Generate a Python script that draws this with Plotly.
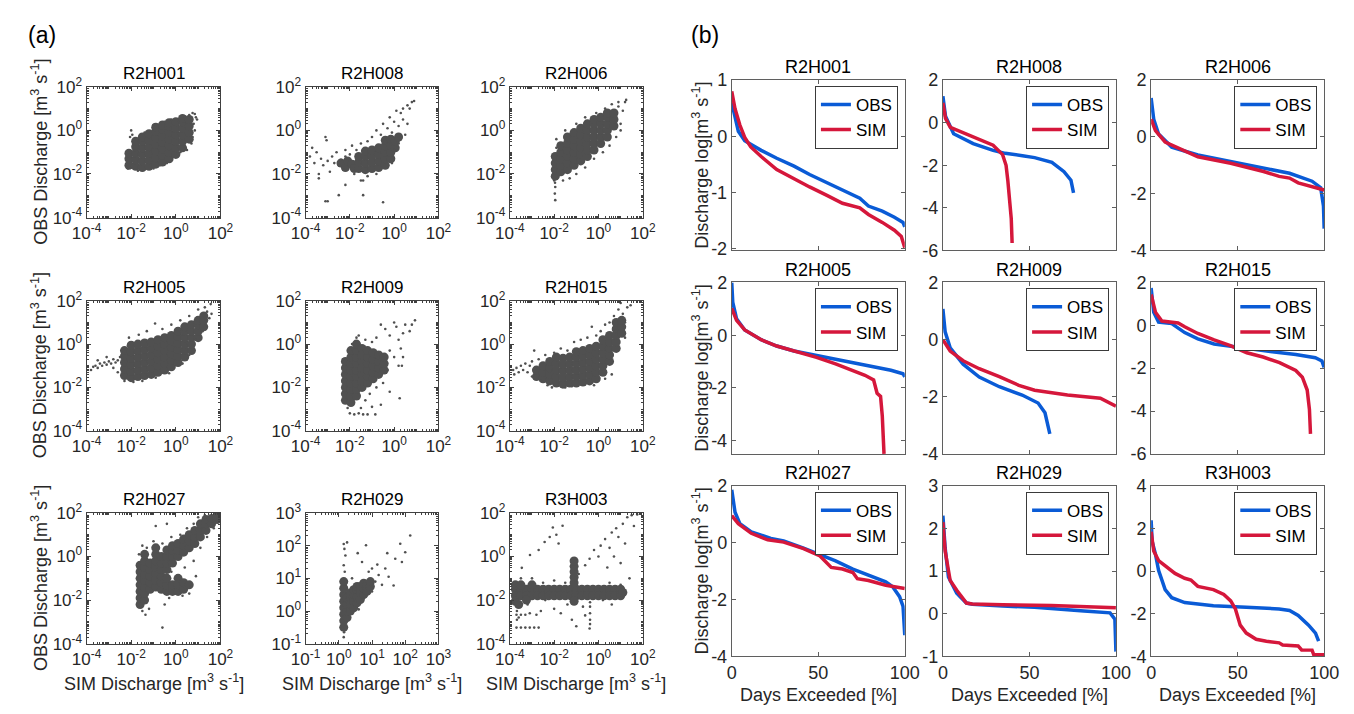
import plotly.graph_objects as go

W, H = 1354, 714          # browser window
OFF = 8                   # default page margin of the browser body
FW, FH = W - 2 * OFF, H - 2 * OFF
FONT = "Liberation Sans, Arial, Helvetica, sans-serif"
DOT = "#505050"
BLUE = "#0a5bd6"
RED = "#d5173b"

STATIONS = ["R2H001", "R2H008", "R2H006", "R2H005", "R2H009", "R2H015", "R2H027", "R2H029", "R3H003"]

# ---------------- (a) scatter data: (log10 SIM, log10 OBS) ----------------
R2H001_DENSE = [(-2.1,-1.6),(-2.1,-1.3),(-2.1,-1.05),
    (-1.8,-1.65),(-1.8,-1.35),(-1.8,-1.05),(-1.8,-0.75),(-1.8,-0.5),
    (-1.5,-1.7),(-1.5,-1.4),(-1.5,-1.1),(-1.5,-0.8),(-1.5,-0.5),(-1.5,-0.3),
    (-1.2,-1.65),(-1.2,-1.35),(-1.2,-1.05),(-1.2,-0.75),(-1.2,-0.45),(-1.2,-0.15),
    (-0.9,-1.55),(-0.9,-1.25),(-0.9,-0.95),(-0.9,-0.65),(-0.9,-0.35),(-0.9,-0.05),(-0.9,0.15),
    (-0.6,-1.45),(-0.6,-1.15),(-0.6,-0.85),(-0.6,-0.55),(-0.6,-0.25),(-0.6,0.05),(-0.6,0.25),
    (-0.3,-1.3),(-0.3,-1.0),(-0.3,-0.7),(-0.3,-0.4),(-0.3,-0.1),(-0.3,0.2),(-0.3,0.35),
    (0.0,-1.1),(0.0,-0.8),(0.0,-0.5),(0.0,-0.2),(0.0,0.1),(0.0,0.4),
    (0.3,-0.8),(0.3,-0.5),(0.3,-0.2),(0.3,0.1),(0.3,0.4),(0.3,0.55),
    (0.6,-0.4),(0.6,-0.1),(0.6,0.2),(0.6,0.5)]
R2H001_SPARSE = [(-2.0,0.0),(-2.05,-0.3),(-1.95,-0.2),(-2.15,-1.75),(-1.7,-1.85),(-1.0,-1.75),
    (-0.7,-1.6),(-0.4,-1.5),(0.2,-1.0),(0.45,-0.85),(0.5,-0.9),(0.75,-0.3),(0.8,0.3),(0.85,0.75),
    (0.9,0.6),(0.75,0.8),(0.6,0.7),(0.95,0.5),(0.4,0.65),(-0.2,0.5),(-0.5,0.4),(-1.0,0.25),
    (-1.4,-0.1),(0.85,0.0),(0.7,-0.6)]

R2H008_DENSE = [(-2.4,-1.5),(-2.2,-1.7),(-2.1,-1.4),(-1.9,-1.55),(-1.8,-1.75),
    (-1.6,-1.75),(-1.6,-1.45),(-1.6,-1.2),
    (-1.3,-1.8),(-1.3,-1.5),(-1.3,-1.2),(-1.3,-0.95),
    (-1.0,-1.75),(-1.0,-1.45),(-1.0,-1.15),(-1.0,-0.9),
    (-0.7,-1.7),(-0.7,-1.4),(-0.7,-1.1),(-0.7,-0.8),
    (-0.4,-1.6),(-0.4,-1.3),(-0.4,-1.0),(-0.4,-0.7),(-0.4,-0.45),
    (-0.15,-1.3),(-0.15,-1.0),(-0.15,-0.7),(-0.15,-0.4),(0.05,-0.8),(0.05,-0.5),(0.2,-0.3)]
R2H008_SPARSE = [(-3.8,-1.2),(-3.7,-0.8),(-3.6,-1.5),(-3.5,-1.0),(-3.4,-2.2),(-3.3,-1.3),(-3.2,-1.6),
    (-3.1,-0.3),(-3.05,-0.45),(-3.0,-1.4),(-2.9,-1.9),(-2.8,-1.2),(-2.7,-1.5),(-2.6,-1.0),(-2.5,-1.6),
    (-2.4,-1.35),(-2.3,-1.8),(-2.2,-1.2),(-2.2,-0.9),(-2.0,-1.1),(-1.9,-0.7),(-1.7,-0.9),(-1.5,-0.6),
    (-1.2,-0.5),(-1.0,-0.3),(-0.8,0.0),(-0.6,-0.2),(-0.5,0.3),(-0.3,0.1),(-0.2,0.6),(-0.1,-0.1),
    (0.0,0.4),(0.1,-0.3),(0.2,0.2),(0.3,0.8),(0.1,0.9),(0.4,0.5),(0.5,-0.2),(0.6,0.3),(0.7,1.0),
    (0.8,1.3),(0.9,1.35),(0.6,1.15),(0.4,1.0),(0.2,-0.6),(-0.1,-1.5),(0.0,-0.9),
    (-3.1,-3.25),(-3.0,-3.25),(-2.5,-2.97),(-1.4,-2.97),(-0.5,-3.3),(-2.2,-2.5),(-1.5,-2.3),
    (-1.4,-2.3),(-3.4,-2.0),(-1.2,-2.1),(-0.8,-2.0),(-1.8,-2.0)]

R2H006_DENSE = [(-1.95,-2.1),(-1.95,-1.8),(-1.95,-1.5),(-1.95,-1.2),
    (-1.7,-1.9),(-1.7,-1.6),(-1.7,-1.3),(-1.7,-1.0),(-1.7,-0.7),
    (-1.4,-1.8),(-1.4,-1.5),(-1.4,-1.2),(-1.4,-0.9),(-1.4,-0.6),(-1.4,-0.3),
    (-1.1,-1.6),(-1.1,-1.3),(-1.1,-1.0),(-1.1,-0.7),(-1.1,-0.4),(-1.1,-0.1),
    (-0.8,-1.4),(-0.8,-1.1),(-0.8,-0.8),(-0.8,-0.5),(-0.8,-0.2),(-0.8,0.1),
    (-0.5,-1.2),(-0.5,-0.9),(-0.5,-0.6),(-0.5,-0.3),(-0.5,0.0),(-0.5,0.3),
    (-0.2,-0.9),(-0.2,-0.6),(-0.2,-0.3),(-0.2,0.0),(-0.2,0.3),(-0.2,0.5),
    (0.1,-0.6),(0.1,-0.3),(0.1,0.0),(0.1,0.3),(0.1,0.6),
    (0.4,-0.3),(0.4,0.0),(0.4,0.3),(0.4,0.6),(0.4,0.8),
    (0.7,0.2),(0.7,0.5),(0.7,0.8)]
R2H006_SPARSE = [(-1.95,-3.2),(-1.97,-2.9),(-1.95,-2.6),(-1.96,-2.4),(-1.9,-0.8),(-1.9,-0.4),(-2.0,-2.3),
    (-1.6,-2.3),(-1.3,-2.2),(-1.0,-2.0),(-0.6,-1.7),(-0.2,-1.3),(0.2,-1.0),(0.5,-0.7),(0.8,-0.3),
    (1.0,0.3),(1.1,0.9),(1.2,1.3),(1.25,1.4),(0.9,1.1),(0.6,1.2),(0.3,1.0),(-0.1,0.8),(-0.6,0.6),
    (-1.0,0.3),(-1.5,0.0),(1.0,0.0),(0.9,1.3)]

R2H005_DENSE = [(-2.3,-1.45),(-2.3,-1.15),(-2.3,-0.85),(-2.3,-0.55),(-2.3,-0.3),
    (-2.0,-1.55),(-2.0,-1.25),(-2.0,-0.95),(-2.0,-0.65),(-2.0,-0.35),(-2.0,-0.05),
    (-1.7,-1.5),(-1.7,-1.2),(-1.7,-0.9),(-1.7,-0.6),(-1.7,-0.3),(-1.7,0.0),
    (-1.4,-1.45),(-1.4,-1.15),(-1.4,-0.85),(-1.4,-0.55),(-1.4,-0.25),(-1.4,0.05),
    (-1.1,-1.4),(-1.1,-1.1),(-1.1,-0.8),(-1.1,-0.5),(-1.1,-0.2),(-1.1,0.1),
    (-0.8,-1.3),(-0.8,-1.0),(-0.8,-0.7),(-0.8,-0.4),(-0.8,-0.1),(-0.8,0.2),
    (-0.5,-1.2),(-0.5,-0.9),(-0.5,-0.6),(-0.5,-0.3),(-0.5,0.0),(-0.5,0.3),
    (-0.2,-1.05),(-0.2,-0.75),(-0.2,-0.45),(-0.2,-0.15),(-0.2,0.15),(-0.2,0.4),
    (0.1,-0.85),(0.1,-0.55),(0.1,-0.25),(0.1,0.05),(0.1,0.35),(0.1,0.6),
    (0.4,-0.6),(0.4,-0.3),(0.4,0.0),(0.4,0.3),(0.4,0.6),(0.4,0.8),
    (0.7,-0.3),(0.7,0.0),(0.7,0.3),(0.7,0.6),(0.7,0.9),
    (1.0,0.3),(1.0,0.6),(1.0,0.9),(1.0,1.1),
    (1.25,0.8),(1.25,1.1),(1.25,1.3)]
R2H005_SPARSE = [(-3.8,-1.2),(-3.7,-1.05),(-3.6,-1.0),(-3.5,-1.1),(-3.4,-0.9),(-3.3,-1.0),(-3.2,-0.85),
    (-3.1,-0.95),(-3.0,-0.8),(-2.9,-0.9),(-2.8,-0.7),(-2.7,-0.85),(-2.6,-0.75),(-2.5,-0.6),(-3.5,-0.75),
    (-3.1,-0.6),(-2.8,-1.1),(-2.6,-1.3),(-2.1,0.3),(-1.66,0.43),(-0.93,0.95),(-1.3,0.6),(-0.6,0.7),
    (-0.2,0.9),(0.2,1.1),(0.6,1.3),(1.0,1.6),(1.3,1.7),(1.56,1.85),(1.4,1.5),(1.5,1.2),(1.2,0.6),
    (0.9,0.2),(0.6,-0.5),(0.3,-0.9),(-0.3,-1.35),(-0.9,-1.55),(-1.5,-1.7),(-1.9,-1.75),(1.6,1.4),
    (-2.3,-1.7)]

R2H009_DENSE = [(-2.2,-2.6),(-2.2,-2.3),(-2.2,-2.0),(-2.2,-1.7),(-2.2,-1.4),(-2.2,-1.1),(-2.2,-0.8),
    (-1.95,-2.7),(-1.95,-2.4),(-1.95,-2.1),(-1.95,-1.8),(-1.95,-1.5),(-1.95,-1.2),(-1.95,-0.9),(-1.95,-0.6),(-1.95,-0.3),
    (-1.7,-2.4),(-1.7,-2.1),(-1.7,-1.8),(-1.7,-1.5),(-1.7,-1.2),(-1.7,-0.9),(-1.7,-0.6),(-1.7,-0.3),(-1.7,0.0),
    (-1.45,-2.0),(-1.45,-1.7),(-1.45,-1.4),(-1.45,-1.1),(-1.45,-0.8),(-1.45,-0.5),(-1.45,-0.2),
    (-1.2,-1.8),(-1.2,-1.5),(-1.2,-1.2),(-1.2,-0.9),(-1.2,-0.6),(-1.2,-0.3),
    (-0.95,-1.6),(-0.95,-1.3),(-0.95,-1.0),(-0.95,-0.7),(-0.95,-0.4),
    (-0.7,-1.4),(-0.7,-1.1),(-0.7,-0.8),(-0.7,-0.5),
    (-0.45,-1.2),(-0.45,-0.9),(-0.45,-0.6)]
R2H009_SPARSE = [(-1.7,0.3),(-1.9,0.0),(-1.6,0.4),(-1.3,0.2),(-1.0,0.1),(-0.8,0.3),(-0.6,0.9),(-0.4,0.7),
    (-0.2,0.4),(0.0,1.0),(0.1,0.8),(0.2,0.2),(0.3,-0.2),(0.4,0.5),(0.5,0.9),(0.7,0.6),(0.94,1.1),
    (0.8,0.9),(0.4,-0.6),(0.2,-1.0),(0.0,-0.6),(-0.2,-0.3),(-0.3,-1.2),(-0.5,-1.8),(-0.8,-2.0),
    (-1.1,-2.3),(-1.3,-2.6),(-0.2,-2.2),(0.25,-2.5),(0.35,-1.0),(-2.0,-3.2),(-1.8,-3.25),(-1.6,-3.2),
    (-1.4,-3.25),(-1.2,-3.25),(-0.85,-3.25),(-2.1,-2.95),(-1.5,-2.95),(-1.0,-2.9),(-0.6,-2.8),
    (-2.3,-2.0),(-2.25,-1.3),(-2.3,-0.7)]

R2H015_DENSE = [(-2.8,-1.5),(-2.8,-1.2),
    (-2.5,-1.6),(-2.5,-1.3),(-2.5,-1.0),
    (-2.2,-1.7),(-2.2,-1.4),(-2.2,-1.1),(-2.2,-0.8),
    (-1.9,-1.8),(-1.9,-1.5),(-1.9,-1.2),(-1.9,-0.9),(-1.9,-0.6),
    (-1.6,-1.85),(-1.6,-1.55),(-1.6,-1.25),(-1.6,-0.95),(-1.6,-0.65),
    (-1.3,-1.8),(-1.3,-1.5),(-1.3,-1.2),(-1.3,-0.9),(-1.3,-0.6),
    (-1.0,-1.8),(-1.0,-1.5),(-1.0,-1.2),(-1.0,-0.9),(-1.0,-0.6),(-1.0,-0.35),
    (-0.7,-1.75),(-0.7,-1.45),(-0.7,-1.15),(-0.7,-0.85),(-0.7,-0.55),(-0.7,-0.3),
    (-0.4,-1.7),(-0.4,-1.4),(-0.4,-1.1),(-0.4,-0.8),(-0.4,-0.5),(-0.4,-0.2),
    (-0.1,-1.6),(-0.1,-1.3),(-0.1,-1.0),(-0.1,-0.7),(-0.1,-0.4),(-0.1,-0.1),
    (0.2,-1.3),(0.2,-1.0),(0.2,-0.7),(0.2,-0.4),(0.2,-0.1),(0.2,0.2),
    (0.5,-0.8),(0.5,-0.5),(0.5,-0.2),(0.5,0.1),(0.5,0.4),
    (0.8,-0.2),(0.8,0.1),(0.8,0.4),(0.8,0.7),(0.8,1.0),
    (1.05,0.5),(1.05,0.8),(1.05,1.1)]
R2H015_SPARSE = [(-3.85,-1.2),(-3.8,-1.4),(-3.7,-1.1),(-3.6,-1.3),(-3.5,-1.0),(-3.4,-1.2),(-3.3,-0.9),
    (-3.2,-1.3),(-3.1,-1.0),(-3.0,-0.8),(-2.9,-0.3),(-3.0,-1.5),(-2.7,-0.7),(-2.6,-1.7),(-2.4,-0.5),
    (-2.3,-1.9),(-2.0,-0.4),(-1.7,-0.2),(-1.4,-0.3),(-1.1,0.1),(-0.8,0.2),(-0.5,0.3),(-0.3,0.8),
    (-0.1,0.4),(0.1,0.6),(0.3,0.9),(0.5,1.0),(0.7,1.3),(0.9,1.6),(1.1,1.4),(1.2,1.0),(1.3,1.7),
    (1.45,1.8),(1.0,1.9),(0.8,0.6),(1.2,0.3),(0.6,-1.4),(0.3,-1.6),(-0.2,-1.9),(-1.5,-2.0),
    (-1.2,-1.95),(-2.1,-2.0)]

R2H027_DENSE = [(-1.6,-2.2),(-1.6,-1.9),(-1.6,-1.6),(-1.6,-1.3),(-1.6,-1.0),(-1.6,-0.7),(-1.6,-0.4),
    (-1.4,-2.0),(-1.4,-1.7),(-1.4,-1.4),(-1.4,-1.1),(-1.4,-0.8),(-1.4,-0.5),(-1.4,-0.2),(-1.4,0.1),
    (-1.15,-1.5),(-1.15,-1.2),(-1.15,-0.9),(-1.15,-0.6),(-1.15,-0.3),
    (-0.9,-1.4),(-0.9,-1.1),(-0.9,-0.8),(-0.9,-0.5),(-0.9,-0.2),(-0.9,0.1),(-0.9,0.4),
    (-0.65,-1.5),(-0.65,-1.2),(-0.65,-0.9),(-0.65,-0.6),(-0.65,-0.3),(-0.65,0.0),
    (-0.4,-1.6),(-0.4,-1.3),(-0.4,-1.0),(-0.4,-0.6),(-0.4,-0.3),(-0.4,0.0),(-0.4,0.3),
    (-0.15,-1.6),(-0.15,-1.3),(-0.15,-0.3),(-0.15,0.0),(-0.15,0.3),(-0.15,0.5),
    (0.1,-1.6),(0.1,-1.3),(0.1,-1.0),(0.1,0.0),(0.1,0.3),(0.1,0.6),
    (0.35,-1.5),(0.35,-1.2),(0.35,0.2),(0.35,0.5),(0.35,0.8),
    (0.6,-1.3),(0.6,0.4),(0.6,0.7),(0.6,1.0),
    (0.85,0.6),(0.85,0.9),(0.85,1.2),
    (1.1,0.9),(1.1,1.2),(1.1,1.5),
    (1.35,1.2),(1.35,1.5),(1.35,1.7),
    (1.6,1.5),(1.6,1.75),(1.85,1.7),(1.85,1.85)]
R2H027_SPARSE = [(-1.7,-0.5),(-1.65,0.1),(-1.5,0.5),(-1.3,0.4),(-1.0,0.7),(-0.9,1.4),(-0.4,1.5),
    (-0.6,0.6),(-0.2,0.9),(0.2,1.0),(0.5,1.3),(0.8,1.5),(1.0,1.8),(1.3,1.9),(1.9,1.9),(1.7,1.3),
    (1.4,0.9),(1.1,0.4),(0.8,-0.2),(0.9,-0.9),(0.6,-1.7),(0.3,-1.8),(-0.6,-3.26),(-1.36,-2.67),
    (-1.2,-2.4),(-0.5,-2.2),(-0.3,-1.9),(-1.5,-2.5),(-0.2,-0.7),(0.4,-0.5)]

R2H029_DENSE = [(0.15,-0.5),(0.15,-0.3),(0.15,-0.1),(0.15,0.1),(0.15,0.3),(0.15,0.5),(0.15,0.7),(0.15,0.9),
    (0.25,-0.2),(0.25,0.0),(0.25,0.2),(0.25,0.4),
    (0.35,0.0),(0.35,0.2),(0.35,0.4),(0.35,0.55),
    (0.45,0.1),(0.45,0.3),(0.45,0.5),(0.45,0.65),
    (0.55,0.25),(0.55,0.45),(0.55,0.65),(0.55,0.75),
    (0.65,0.35),(0.65,0.55),(0.65,0.75),
    (0.75,0.5),(0.75,0.7),(0.75,0.85),
    (0.85,0.6),(0.85,0.8),(0.95,0.75),(0.95,0.9)]
R2H029_SPARSE = [(0.15,-0.8),(0.16,-0.65),(0.15,2.05),(0.17,1.9),(0.2,1.7),(0.15,1.4),(0.18,1.2),(0.25,2.1),
    (0.57,1.77),(0.82,2.01),(0.7,1.5),(1.16,1.42),(1.46,1.77),(1.85,2.06),(2.15,2.31),(1.7,1.6),
    (1.4,1.3),(1.2,1.1),(1.1,0.9),(1.3,0.8),(1.65,0.78),(1.5,1.05),(1.0,0.6),(0.6,0.05),(0.5,0.3),
    (1.9,1.5),(2.0,1.8),(0.4,1.0),(0.9,1.2),(1.0,1.3)]

R3H003_DENSE = [(-3.75,-1.5),(-3.5,-1.5),(-3.25,-1.5),(-3.0,-1.5),(-2.75,-1.5),(-2.5,-1.5),(-2.25,-1.5),
    (-2.0,-1.5),(-1.75,-1.5),(-1.5,-1.5),(-1.25,-1.5),(-1.0,-1.5),(-0.75,-1.5),(-0.5,-1.5),(-0.25,-1.5),
    (0.0,-1.5),(0.25,-1.5),(0.5,-1.5),(0.75,-1.5),(1.0,-1.5),
    (-3.75,-1.8),(-3.5,-1.8),(-3.25,-1.8),(-3.0,-1.8),(-2.75,-1.8),(-2.5,-1.8),(-2.25,-1.8),
    (-2.0,-1.8),(-1.75,-1.8),(-1.5,-1.8),(-1.25,-1.8),(-1.0,-1.8),(-0.75,-1.8),(-0.5,-1.8),(-0.25,-1.8),
    (0.0,-1.8),(0.25,-1.8),(0.5,-1.8),(0.75,-1.8),(1.0,-1.8),
    (-3.75,-1.3),(-3.5,-1.3),(-3.25,-2.0),(-3.0,-1.3),(-3.75,-2.05),(-3.6,-2.2),
    (-1.1,-1.2),(-1.1,-0.95),(-1.1,-0.7),(-1.1,-0.45),(-1.1,-0.2),(-1.1,-2.05),(1.1,-1.65)]
R3H003_SPARSE = [(-0.89,-0.8),(-0.6,-0.4),(-0.4,-0.1),(-0.2,0.3),(0.0,0.0),(0.1,0.5),(0.3,0.8),(0.5,0.4),
    (0.6,1.1),(0.8,1.3),(0.9,0.9),(1.1,1.5),(1.3,1.8),(1.5,1.9),(1.75,1.93),(1.6,1.4),(1.2,0.6),
    (0.7,0.0),(0.4,-0.5),(1.0,-0.3),(1.4,-1.0),
    (-2.06,1.33),(-1.62,1.41),(-2.43,0.67),(-2.2,0.9),(-3.09,0.07),(-3.46,-0.52),(-2.7,0.3),(-1.9,1.0),(-1.8,0.6),
    (-3.7,-3.26),(-3.5,-3.26),(-3.3,-3.26),(-3.1,-3.26),(-2.9,-3.26),(-2.7,-3.26),(-3.7,-2.67),(-3.5,-2.67),
    (-3.3,-2.67),(-3.1,-2.6),(-2.8,-2.67),(-2.6,-2.5),(-3.6,-2.3),(-3.2,-2.2),(-2.4,-2.0),(-2.0,-2.4),
    (-1.7,-2.6),(-1.4,-2.2),(-1.2,-2.9),(-0.7,-2.3),(-0.4,-3.3),(-0.38,-3.1),(-0.38,-2.9),(-0.38,-2.6),
    (-0.38,-2.3),(-0.38,-2.1),(-0.6,-2.7),(-1.0,-3.2),(0.2,-2.0),(0.6,-2.2),(-3.68,-1.3),(-3.68,-2.0),
    (-3.68,-2.3),(-3.68,-2.5),(-3.68,-2.9),(-3.6,-2.8),
    (-2.5,-1.2),(-2.0,-1.1),(-1.5,-1.2),(0.5,-1.2),(1.0,-1.3),(-3.0,-1.0),(-3.5,-1.0)]

SC_DENSE = [R2H001_DENSE, R2H008_DENSE, R2H006_DENSE, R2H005_DENSE, R2H009_DENSE,
            R2H015_DENSE, R2H027_DENSE, R2H029_DENSE, R3H003_DENSE]
SC_SPARSE = [R2H001_SPARSE, R2H008_SPARSE, R2H006_SPARSE, R2H005_SPARSE, R2H009_SPARSE,
             R2H015_SPARSE, R2H027_SPARSE, R2H029_SPARSE, R3H003_SPARSE]
SC_DECADES = [(-4, 2)] * 7 + [(-1, 3)] + [(-4, 2)]

# ---------------- (b) flow duration curves: days exceeded [%] vs log10 discharge ----------------
R2H001_OBS_X = [0, 1.9, 3.8, 7.5, 17, 26, 36, 45, 55, 64, 74, 79, 87, 94, 99, 100]
R2H001_OBS_Y = [0.6, 0.32, 0.09, -0.08, -0.25, -0.39, -0.53, -0.68, -0.82, -0.96, -1.1, -1.24, -1.33, -1.44, -1.53, -1.61]
R2H001_SIM_X = [0, 1.9, 4.7, 7.5, 11, 17, 26, 36, 45, 55, 64, 74, 79, 87, 94, 98, 100]
R2H001_SIM_Y = [0.8, 0.49, 0.2, -0.02, -0.19, -0.36, -0.59, -0.76, -0.9, -1.05, -1.19, -1.27, -1.39, -1.53, -1.67, -1.78, -1.98]

R2H008_OBS_X = [0, 1.5, 6.2, 17.5, 29, 36, 46, 53, 63, 70, 74, 75.5]
R2H008_OBS_Y = [1.24, 0.3, -0.52, -0.98, -1.3, -1.44, -1.55, -1.64, -1.86, -2.3, -2.7, -3.3]
R2H008_SIM_X = [0, 1.5, 4.3, 17.5, 29, 34.5, 36.5, 37.5, 38.5, 39.5, 40.0]
R2H008_SIM_Y = [0.93, 0.2, -0.22, -0.68, -1.06, -1.5, -2.0, -2.7, -3.5, -4.5, -5.65]

R2H006_OBS_X = [0, 1.5, 4.3, 11.9, 27, 46, 65, 80, 93, 98, 99.6, 100]
R2H006_OBS_Y = [1.37, 0.62, 0.1, -0.36, -0.64, -0.87, -1.07, -1.28, -1.56, -1.79, -2.43, -3.23]
R2H006_SIM_X = [0, 2.5, 8.1, 19.4, 27, 46, 65, 74, 80, 85, 93, 100]
R2H006_SIM_Y = [0.62, 0.22, -0.18, -0.5, -0.7, -0.93, -1.22, -1.39, -1.45, -1.62, -1.74, -1.87]

R2H005_OBS_X = [0, 0.6, 2.8, 7.5, 17, 26, 36, 45, 55, 64, 74, 83, 92, 99, 100]
R2H005_OBS_Y = [2.0, 1.24, 0.62, 0.2, -0.17, -0.41, -0.6, -0.72, -0.84, -0.97, -1.09, -1.21, -1.33, -1.46, -1.58]
R2H005_SIM_X = [0, 2.8, 7.5, 17, 26, 36, 49, 60, 70, 77, 82, 84, 86, 87, 88]
R2H005_SIM_Y = [1.02, 0.56, 0.2, -0.17, -0.41, -0.6, -0.84, -1.09, -1.33, -1.52, -1.7, -2.2, -2.32, -3.06, -4.5]

R2H009_OBS_X = [0, 1.3, 4.2, 11.7, 21, 32.6, 45.8, 55, 59, 61.8]
R2H009_OBS_Y = [1.07, 0.27, -0.29, -0.86, -1.31, -1.65, -1.94, -2.22, -2.56, -3.3]
R2H009_SIM_X = [0, 4.2, 11.7, 21, 32.6, 43.9, 53, 72, 91, 100]
R2H009_SIM_Y = [0.0, -0.4, -0.74, -1.02, -1.3, -1.6, -1.77, -1.94, -2.05, -2.33]

R2H015_OBS_X = [0, 1.5, 4.3, 11.9, 19.4, 27, 36.4, 45.8, 64.7, 83.6, 94.9, 98.7, 100]
R2H015_OBS_Y = [1.74, 0.61, 0.15, 0.08, -0.34, -0.63, -0.87, -0.98, -1.18, -1.36, -1.51, -1.66, -1.96]
R2H015_SIM_X = [0, 2.5, 6.2, 15.6, 19.4, 27, 36.4, 45.8, 55.3, 64.7, 74.2, 83.6, 87.4, 90.2, 91.5, 92.1]
R2H015_SIM_Y = [1.44, 0.61, 0.2, 0.11, -0.07, -0.38, -0.68, -0.95, -1.28, -1.48, -1.74, -2.11, -2.42, -3.02, -3.93, -5.07]

R2H027_OBS_X = [0, 1.9, 4.7, 11.3, 22.6, 30, 41.5, 51, 60, 70, 79, 89, 93, 97, 99, 100]
R2H027_OBS_Y = [1.86, 1.07, 0.67, 0.38, 0.15, 0.06, -0.19, -0.41, -0.64, -0.93, -1.15, -1.38, -1.55, -1.9, -2.24, -3.26]
R2H027_SIM_X = [0, 3.8, 11.3, 20.8, 30, 41.5, 51, 57.5, 64, 70, 72.6, 79, 89, 94, 100]
R2H027_SIM_Y = [0.95, 0.67, 0.33, 0.1, 0.02, -0.21, -0.47, -0.87, -0.93, -1.05, -1.27, -1.33, -1.5, -1.55, -1.61]

R2H029_OBS_X = [0, 1.3, 3.2, 8, 13.6, 17, 34.5, 53, 81.5, 96.6, 99.4, 100]
R2H029_OBS_Y = [2.3, 1.54, 0.86, 0.48, 0.25, 0.22, 0.18, 0.15, 0.06, 0.02, -0.13, -0.89]
R2H029_SIM_X = [0, 1.3, 4.2, 8, 13.6, 17, 34.5, 62.7, 100]
R2H029_SIM_Y = [2.15, 1.47, 0.78, 0.55, 0.25, 0.23, 0.21, 0.19, 0.14]

R3H003_OBS_X = [0, 0.6, 2.5, 4.3, 8.1, 11.9, 19.4, 36, 55, 74, 80, 85, 91, 95, 96.8]
R3H003_OBS_Y = [2.38, 1.39, 0.79, 0.04, -0.87, -1.25, -1.48, -1.63, -1.7, -1.78, -1.85, -2.08, -2.54, -2.91, -3.29]
R3H003_SIM_X = [0, 1.5, 4.3, 8.1, 13.8, 19.4, 23, 27, 36, 42, 46, 48.7, 51.5, 55, 60.7, 66.6, 74, 76, 85, 87, 93, 94, 100]
R3H003_SIM_Y = [1.85, 0.94, 0.49, 0.26, -0.11, -0.34, -0.42, -0.72, -0.87, -1.1, -1.4, -1.78, -2.54, -2.91, -3.2, -3.29, -3.37, -3.47, -3.52, -3.7, -3.71, -3.93, -3.93]

OBS_X = [R2H001_OBS_X, R2H008_OBS_X, R2H006_OBS_X, R2H005_OBS_X, R2H009_OBS_X, R2H015_OBS_X, R2H027_OBS_X, R2H029_OBS_X, R3H003_OBS_X]
OBS_Y = [R2H001_OBS_Y, R2H008_OBS_Y, R2H006_OBS_Y, R2H005_OBS_Y, R2H009_OBS_Y, R2H015_OBS_Y, R2H027_OBS_Y, R2H029_OBS_Y, R3H003_OBS_Y]
SIM_X = [R2H001_SIM_X, R2H008_SIM_X, R2H006_SIM_X, R2H005_SIM_X, R2H009_SIM_X, R2H015_SIM_X, R2H027_SIM_X, R2H029_SIM_X, R3H003_SIM_X]
SIM_Y = [R2H001_SIM_Y, R2H008_SIM_Y, R2H006_SIM_Y, R2H005_SIM_Y, R2H009_SIM_Y, R2H015_SIM_Y, R2H027_SIM_Y, R2H029_SIM_Y, R3H003_SIM_Y]

FDC_YRANGE = [(-2.03, 1.0), (-6, 2), (-4, 2), (-4.5, 2), (-4, 2), (-6, 2), (-4, 2), (-1, 3), (-4, 4)]
FDC_YTICKS = [[-2, -1, 0, 1], [-6, -4, -2, 0, 2], [-4, -2, 0, 2], [-4, -2, 0, 2], [-4, -2, 0, 2],
              [-6, -4, -2, 0, 2], [-4, -2, 0, 2], [-1, 0, 1, 2, 3], [-4, -2, 0, 2, 4]]
FDC_XTICKS = [0, 50, 100]

# ---------------- layout geometry (window pixels) ----------------
SC_COLS = [(73, 210), (297, 433), (506, 642)]
SC_ROWS = [(77, 212), (298, 432), (517, 652)]
FD_COLS = [(733, 910), (949, 1126), (1162, 1339)]
FD_ROWS = [(70, 246), (279, 456), (489, 665)]


def px(x):
    return (x - OFF) / FW


def py(y):
    return 1 - (y - OFF) / FH


def names(n):
    xa = "x" if n == 1 else f"x{n}"
    ya = "y" if n == 1 else f"y{n}"
    xk = "xaxis" if n == 1 else f"xaxis{n}"
    yk = "yaxis" if n == 1 else f"yaxis{n}"
    return xa, ya, xk, yk


def label(text, x, y, size, color="black", angle=0):
    return dict(text=text, x=px(x), y=py(y), xref="paper", yref="paper", showarrow=False,
                xanchor="center", yanchor="middle", textangle=angle,
                font=dict(size=size, color=color, family=FONT))


fig = go.Figure()
lay = {}
ann = []

AX_C = "#404040"
TXT = "#262626"

for k, st in enumerate(STATIONS):
    r, c = divmod(k, 3)
    n = k + 1
    xa, ya, xk, yk = names(n)
    lo, hi = SC_DECADES[k]
    sparse = SC_SPARSE[k]
    dense = SC_DENSE[k]
    fig.add_trace(go.Scatter(x=[10 ** p[0] for p in dense], y=[10 ** p[1] for p in dense],
                             mode="markers", marker=dict(size=9, color=DOT, line=dict(width=0)),
                             xaxis=xa, yaxis=ya, showlegend=False, hoverinfo="skip"))
    fig.add_trace(go.Scatter(x=[10 ** p[0] for p in sparse], y=[10 ** p[1] for p in sparse],
                             mode="markers", marker=dict(size=2.6, color=DOT, line=dict(width=0)),
                             xaxis=xa, yaxis=ya, showlegend=False, hoverinfo="skip"))
    step = 1 if (hi - lo) <= 4 else 2
    major = [d for d in range(lo, hi + 1) if (d - lo) % step == 0]
    tv = [10.0 ** d for d in major]
    tt = [f"10<sup>{d}</sup>" if d >= 0 else f"10<sup>-{-d}</sup>" for d in major]
    mv = [m * 10.0 ** d for d in range(lo, hi) for m in range(1, 10)
          if not (m == 1 and d in major)]
    common = dict(type="log", range=[lo, hi], tickmode="array", tickvals=tv, ticktext=tt,
                  ticks="inside", ticklen=4, tickcolor=AX_C, showline=True, linecolor=AX_C,
                  linewidth=1, mirror="ticks", showgrid=False, zeroline=False,
                  tickfont=dict(size=17, color=TXT, family=FONT),
                  minor=dict(tickmode="array", tickvals=mv, ticks="inside", ticklen=2,
                             tickcolor=AX_C, showgrid=False))
    x0, x1 = SC_COLS[c]
    y0, y1 = SC_ROWS[r]
    lay[xk] = dict(common, domain=[px(x0), px(x1)], anchor=ya)
    lay[yk] = dict(common, domain=[py(y1), py(y0)], anchor=xa)
    ann.append(label(st, (x0 + x1) / 2, y0 - 14, 17))
    if c == 0:
        ann.append(label("OBS Discharge [m<sup>3</sup> s<sup>-1</sup>]", 25, (y0 + y1) / 2, 18, TXT, -90))
    if r == 2:
        ann.append(label("SIM Discharge [m<sup>3</sup> s<sup>-1</sup>]", (x0 + x1) / 2, 692, 18, TXT))

FD_AX = "#5f5f5f"
for k, st in enumerate(STATIONS):
    r, c = divmod(k, 3)
    n = 10 + k
    xa, ya, xk, yk = names(n)
    leg = "legend" if k == 0 else f"legend{k + 1}"
    fig.add_trace(go.Scatter(x=OBS_X[k], y=OBS_Y[k], mode="lines", name="OBS",
                             line=dict(color=BLUE, width=3.5), xaxis=xa, yaxis=ya, legend=leg,
                             hoverinfo="skip"))
    fig.add_trace(go.Scatter(x=SIM_X[k], y=SIM_Y[k], mode="lines", name="SIM",
                             line=dict(color=RED, width=3.5), xaxis=xa, yaxis=ya, legend=leg,
                             hoverinfo="skip"))
    x0, x1 = FD_COLS[c]
    y0, y1 = FD_ROWS[r]
    lay[xk] = dict(domain=[px(x0), px(x1)], anchor=ya, range=[0, 100], tickmode="array",
                   tickvals=FDC_XTICKS, ticktext=[str(v) for v in FDC_XTICKS],
                   showticklabels=(r == 2), ticks="inside", ticklen=4, tickcolor=FD_AX,
                   showline=True, linecolor=FD_AX, linewidth=1, mirror="ticks",
                   showgrid=False, zeroline=False,
                   tickfont=dict(size=18, color=TXT, family=FONT))
    yv = FDC_YTICKS[k]
    lay[yk] = dict(domain=[py(y1), py(y0)], anchor=xa, range=list(FDC_YRANGE[k]), tickmode="array",
                   tickvals=yv, ticktext=[str(v) for v in yv], ticks="inside", ticklen=4,
                   tickcolor=FD_AX, showline=True, linecolor=FD_AX, linewidth=1, mirror="ticks",
                   showgrid=False, zeroline=False,
                   tickfont=dict(size=18, color=TXT, family=FONT))
    lay[leg] = dict(x=px(x1 - 7), xanchor="right", y=py(y0 + 6), yanchor="top",
                    xref="paper", yref="paper", bgcolor="white", bordercolor="#3a3a3a",
                    borderwidth=1, font=dict(size=17, color="black", family=FONT),
                    itemwidth=30, tracegroupgap=0, traceorder="normal")
    ann.append(label(st, (x0 + x1) / 2, y0 - 13, 18))
    if c == 0:
        ann.append(label("Discharge log[m<sup>3</sup> s<sup>-1</sup>]", 701, (y0 + y1) / 2, 18, TXT, -90))
    if r == 2:
        ann.append(label("Days Exceeded [%]", (x0 + x1) / 2, 705, 18, TXT))

ann.append(label("(a)", 27, 23, 23))
ann.append(label("(b)", 706, 23, 23))

fig.update_layout(width=FW, height=FH, autosize=False, margin=dict(l=0, r=0, t=0, b=0, pad=0),
                  paper_bgcolor="white", plot_bgcolor="white", showlegend=True,
                  font=dict(family=FONT, size=16, color=TXT), annotations=ann, **lay)

fig.write_html("out.html", config={"displayModeBar": False})
